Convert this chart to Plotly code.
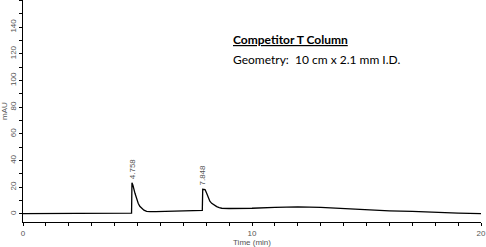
import plotly.graph_objects as go

# Chromatogram trace (time in min, signal in mAU)
time_min = [0, 0.5, 1, 2, 3, 4, 4.5, 4.74, 4.758, 4.80, 4.89, 4.96, 5.03, 5.10, 5.18, 5.28, 5.40, 5.55, 5.8, 6.2, 6.8, 7.3, 7.8, 7.83,
            7.848, 7.95, 8.02, 8.09, 8.16, 8.24, 8.35, 8.46, 8.57, 8.68, 9.0, 9.5, 10, 11, 12, 13, 14, 15, 16, 17, 18, 19, 20]
signal_mau = [0.2, 0.2, 0.2, 0.3, 0.3, 0.4, 0.5, 0.6, 23.4, 21.5, 15.5, 11.2, 8.0, 5.8, 4.3, 2.9, 2.0, 1.7, 1.8, 2.0, 2.2, 2.4, 2.6, 2.7,
              18.5, 18.3, 15.5, 11.8, 9.6, 8.0, 6.6, 5.5, 4.8, 4.3, 4.1, 4.0, 4.3, 4.9, 5.3, 5.0, 4.0, 3.4, 2.4, 1.9, 1.1, 0.6, 0.2]

peak_times = [4.758, 7.848]
peak_heights = [23.4, 18.5]
peak_labels = ["4.758", "7.848"]

title_text = "Competitor T Column"
subtitle_text = "Geometry:  10 cm x 2.1 mm I.D."

x_ticks = [0, 10, 20]
y_ticks = [0, 20, 40, 60, 80, 100, 120, 140]

fig = go.Figure()
fig.add_trace(go.Scatter(x=time_min, y=signal_mau, mode="lines",
                         line=dict(color="black", width=1.3), hoverinfo="skip",
                         showlegend=False))

for t, h, lab in zip(peak_times, peak_heights, peak_labels):
    fig.add_annotation(x=t, y=h, text=lab, showarrow=False, textangle=-90,
                       xanchor="center", yanchor="bottom", yshift=2,
                       font=dict(family="Liberation Sans", size=8, color="#555"))

fig.add_annotation(x=0.4535, y=0.823, xref="paper", yref="paper", xanchor="left", yanchor="middle",
                   text="<b><u>" + title_text + "</u></b>", showarrow=False,
                   font=dict(family="Lato", size=12, color="black"))
fig.add_annotation(x=0.4535, y=0.733, xref="paper", yref="paper", xanchor="left", yanchor="middle",
                   text=subtitle_text, showarrow=False,
                   font=dict(family="Lato", size=12, color="black"))

tickfont = dict(family="Liberation Sans", size=8, color="#555")
fig.update_layout(
    width=486, height=247,
    margin=dict(l=23, r=5, t=0, b=25),
    paper_bgcolor="white", plot_bgcolor="white",
    xaxis=dict(range=[0, 20], tickvals=x_ticks, ticktext=[str(v) for v in x_ticks],
               showgrid=False, zeroline=False, showline=True, linecolor="black", linewidth=1,
               ticks="outside", ticklen=3, tickcolor="black", tickfont=tickfont,
               minor=dict(dtick=1, ticks="outside", ticklen=3, tickcolor="black"),
               title=dict(text="Time (min)", font=tickfont, standoff=2)),
    yaxis=dict(range=[-6, 160.3], tickvals=y_ticks, ticktext=[str(v) for v in y_ticks],
               showgrid=False, zeroline=False, showline=True, linecolor="black", linewidth=1,
               ticks="outside", ticklen=3, tickcolor="black", tickfont=tickfont, tickangle=-90,
               minor=dict(dtick=10, ticks="outside", ticklen=3, tickcolor="black"),
               title=dict(text="mAU", font=tickfont, standoff=0)),
)

fig.write_html("out.html")
